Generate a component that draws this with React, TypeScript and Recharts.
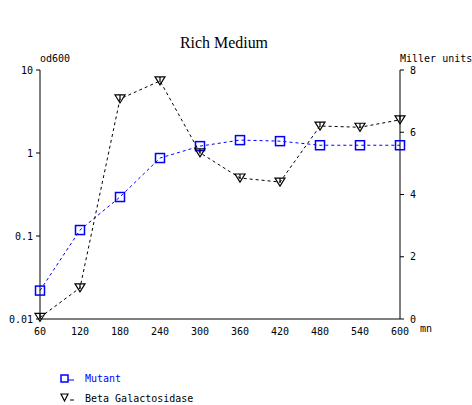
import React from 'react';
import { LineChart, Line, XAxis, YAxis } from 'recharts';

const minutes = [60, 120, 180, 240, 300, 360, 420, 480, 540, 600];
const mutantOd = [0.022, 0.118, 0.295, 0.87, 1.21, 1.43, 1.39, 1.24, 1.24, 1.24];
const betaGal = [0.05, 1.0, 7.07, 7.65, 5.34, 4.53, 4.4, 6.2, 6.16, 6.4];
const odTicks = [0.01, 0.1, 1, 10];
const millerTicks = [0, 2, 4, 6, 8];

const data = minutes.map((t, i) => ({ t, mutant: mutantOd[i], beta: betaGal[i] }));

const mono = '"DejaVu Sans Mono", monospace';
const tickStyle = { fontSize: 10, fontFamily: mono, fill: '#000' };

const SquareDot = (props: any) => {
  const { cx, cy } = props;
  if (cx == null || cy == null) return null;
  return <rect x={cx - 4.5} y={cy - 4.5} width={9} height={9} fill="none" stroke="#0000ff" strokeWidth={1.5} />;
};

const TriDot = (props: any) => {
  const { cx, cy } = props;
  if (cx == null || cy == null) return null;
  return (
    <g stroke="#000" strokeWidth={1.2} fill="none">
      <path d={`M${cx - 5},${cy - 4}L${cx + 5},${cy - 4}L${cx},${cy + 4}Z`} />
      <line x1={cx} y1={cy - 4} x2={cx} y2={cy + 1} />
    </g>
  );
};

export default function App() {
  return (
    <div style={{ position: 'absolute', left: 0, top: 0, width: 472, height: 405, background: '#fff', fontFamily: mono }}>
      <LineChart width={472} height={405} data={data} margin={{ top: 70, right: 0, bottom: 66, left: 0 }}>
        <XAxis
          dataKey="t"
          type="number"
          domain={[60, 600]}
          ticks={minutes}
          tickLine={false}
          tickMargin={3}
          axisLine={{ stroke: '#000' }}
          tick={tickStyle}
          height={20}
          interval={0}
        />
        <YAxis
          yAxisId="left"
          scale="log"
          domain={[0.01, 10]}
          ticks={odTicks}
          allowDataOverflow
          width={40}
          tickSize={4}
          tickMargin={3}
          tickLine={{ stroke: '#000' }}
          axisLine={{ stroke: '#000' }}
          tick={tickStyle}
          tickFormatter={(v: number) => String(v)}
        />
        <YAxis
          yAxisId="right"
          orientation="right"
          domain={[0, 8]}
          ticks={millerTicks}
          width={72}
          tickSize={4}
          tickMargin={6}
          tickLine={{ stroke: '#000' }}
          axisLine={{ stroke: '#000' }}
          tick={tickStyle}
        />
        <Line
          yAxisId="left"
          dataKey="mutant"
          type="linear"
          stroke="#0000ff"
          strokeWidth={1}
          strokeDasharray="3 3"
          dot={<SquareDot />}
          isAnimationActive={false}
        />
        <Line
          yAxisId="right"
          dataKey="beta"
          type="linear"
          stroke="#000"
          strokeWidth={1}
          strokeDasharray="3 3"
          dot={<TriDot />}
          isAnimationActive={false}
        />
        <text x={224} y={48} textAnchor="middle" fontFamily='"Liberation Serif", serif' fontSize={17} textLength={88} lengthAdjust="spacingAndGlyphs">
          Rich Medium
        </text>
        <text x={40} y={62} fontFamily={mono} fontSize={10}>od600</text>
        <text x={400} y={62} fontFamily={mono} fontSize={10}>Miller units</text>
        <text x={420} y={332} fontFamily={mono} fontSize={10}>mn</text>
        <g>
          <rect x={61} y={375} width={7} height={7} fill="none" stroke="#0000ff" strokeWidth={1.5} />
          <line x1={68} y1={380} x2={74} y2={380} stroke="#0000ff" strokeWidth={1} />
          <text x={85} y={382} fontFamily={mono} fontSize={10} fill="#0000ff">Mutant</text>
          <path d="M61,394L68,394L64.5,401Z" fill="none" stroke="#000" strokeWidth={1.2} />
          <line x1={70} y1={400} x2={74} y2={400} stroke="#000" strokeWidth={1} />
          <text x={85} y={402} fontFamily={mono} fontSize={10} fill="#000">Beta Galactosidase</text>
        </g>
      </LineChart>
    </div>
  );
}
